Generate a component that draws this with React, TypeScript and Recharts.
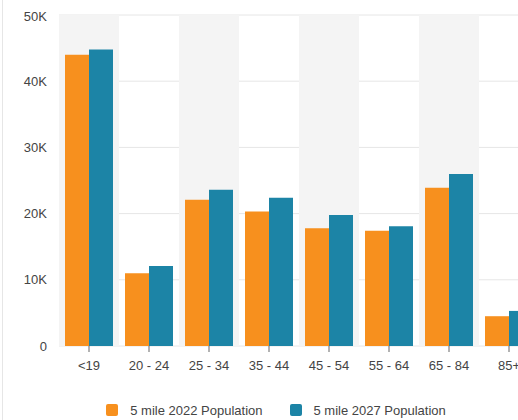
import React from "react";
import { BarChart, Bar, XAxis, YAxis, CartesianGrid, ReferenceArea, Legend } from "recharts";

const ageGroups = ["<19", "20 - 24", "25 - 34", "35 - 44", "45 - 54", "55 - 64", "65 - 84", "85+"];
const pop2022 = [44000, 11000, 22100, 20300, 17800, 17400, 23900, 4500];
const pop2027 = [44800, 12100, 23600, 22400, 19800, 18100, 26000, 5300];
const yTicks = [0, 10000, 20000, 30000, 40000, 50000];

const series = [
  { key: "p2022", name: "5 mile 2022 Population", color: "#F7901E" },
  { key: "p2027", name: "5 mile 2027 Population", color: "#1C84A6" },
];

const data = ageGroups.map((age, i) => ({ age, p2022: pop2022[i], p2027: pop2027[i] }));

const FONT = "'Liberation Sans', Arial, sans-serif";
const TEXT = "#444";

const fmtK = (v: number) => (v === 0 ? "0" : `${v / 1000}K`);

const LegendContent = () => (
  <div style={{ height: 44, paddingTop: 26, boxSizing: "border-box", display: "flex", justifyContent: "center", gap: 27, fontFamily: FONT, fontSize: 13, color: TEXT }}>
    {series.map(s => (
      <div key={s.key} style={{ display: "flex", alignItems: "center", height: 16 }}>
        <span style={{ width: 12, height: 12, borderRadius: 2, background: s.color, marginRight: 12, display: "inline-block" }} />
        <span>{s.name}</span>
      </div>
    ))}
  </div>
);

export default function App() {
  return (
    <div style={{ position: "fixed", left: 0, top: 0, width: 518, height: 420, overflow: "hidden", background: "#fff", fontFamily: FONT }}>
      <div style={{ position: "absolute", left: 2, top: 0, width: 1, height: 420, background: "#e6e6e6" }} />
      <div style={{ position: "absolute", left: 8, top: 8 }}>
        <BarChart width={536} height={412} data={data} margin={{ top: 7, right: 5, bottom: 0, left: 0 }} barCategoryGap="10%" barGap={0}>
          {ageGroups.map((g, i) => i % 2 === 0 ? (
            <ReferenceArea key={g} x1={g} x2={g} y1={0} y2={50000} fill="#f4f4f4" fillOpacity={1} stroke="none" />
          ) : null)}
          <CartesianGrid vertical={false} stroke="#e6e6e6" />
          <XAxis dataKey="age" axisLine={false} tickLine={{ stroke: "#666" }} tickSize={6} tickMargin={9} height={30} interval={0}
            tick={{ fontSize: 13, fill: TEXT, fontFamily: FONT }} />
          <YAxis domain={[0, 50000]} ticks={yTicks} tickFormatter={fmtK} axisLine={false} tickLine={false} width={51} tickMargin={6}
            tick={{ fontSize: 13, fill: TEXT, fontFamily: FONT }} />
          {series.map(s => (
            <Bar key={s.key} dataKey={s.key} name={s.name} fill={s.color} isAnimationActive={false} />
          ))}
          <Legend verticalAlign="bottom" content={<LegendContent />} wrapperStyle={{ left: 0, width: 536 }} />
        </BarChart>
      </div>
    </div>
  );
}
